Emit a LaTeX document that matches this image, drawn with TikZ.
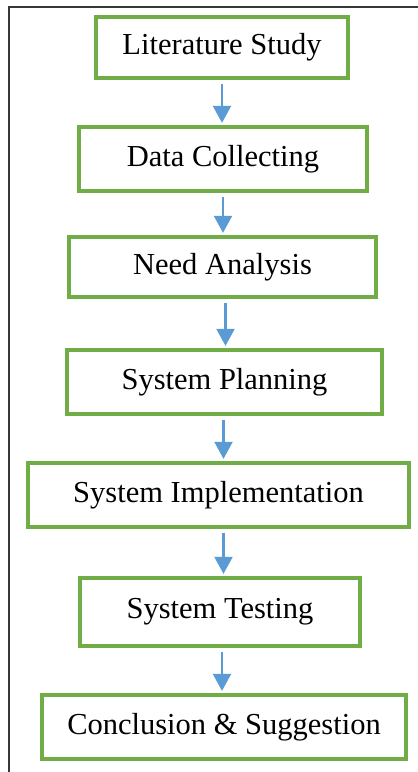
\documentclass[tikz,border=0pt]{standalone}
\usepackage{fontspec}
\setmainfont{Liberation Serif}
\usepackage{tikz}
\usetikzlibrary{arrows.meta}
\usepackage{xcolor}
\definecolor{ColBox}{RGB}{112,173,71}
\definecolor{ColArrow}{RGB}{91,155,213}
\definecolor{ColFrame}{RGB}{55,55,55}
\tikzstyle{StepBox}=[rectangle,draw=ColBox,line width=3.3pt,fill=white,inner sep=0pt,
font=\fontsize{30.5}{36}\selectfont]
\tikzstyle{FlowArrow}=[ColArrow,line width=2.2pt,-{Triangle[length=17pt,width=18pt]},
shorten <=4pt,shorten >=2.5pt]

\begin{document}
\begin{tikzpicture}[x=1pt,y=1pt]
        \useasboundingbox(0,0)rectangle(418,772);
        \draw[ColFrame,line width=2pt](9,0)|-(418,765);
        \node[StepBox,minimum width=252pt,minimum height=61pt](lit)at(222,724.5){Literature Study};
        \node[StepBox,minimum width=288pt,minimum height=64pt](dat)at(223,613){Data Collecting};
        \node[StepBox,minimum width=307pt,minimum height=60pt](need)at(222.5,505){Need Analysis};
        \node[StepBox,minimum width=315pt,minimum height=64pt](plan)at(224.5,390){System Planning};
        \node[StepBox,minimum width=381pt,minimum height=64pt](impl)at(218.5,277){System Implementation};
        \node[StepBox,minimum width=280pt,minimum height=68pt](test)at(220,160){System Testing};
        \node[StepBox,minimum width=364pt,minimum height=64pt](conc)at(224,45){Conclusion \& Suggestion};
        \draw[FlowArrow](lit.south)--(lit.south|-dat.north);
        \draw[FlowArrow](dat.south)--(dat.south|-need.north);
        \draw[FlowArrow]([xshift=3pt]need.south)--([xshift=3pt]need.south|-plan.north);
        \draw[FlowArrow]([xshift=-1pt]plan.south)--([xshift=-1pt]plan.south|-impl.north);
        \draw[FlowArrow]([xshift=5pt]impl.south)--([xshift=5pt]impl.south|-test.north);
        \draw[FlowArrow]([xshift=2pt]test.south)--([xshift=2pt]test.south|-conc.north);
    \end{tikzpicture}
\end{document}
